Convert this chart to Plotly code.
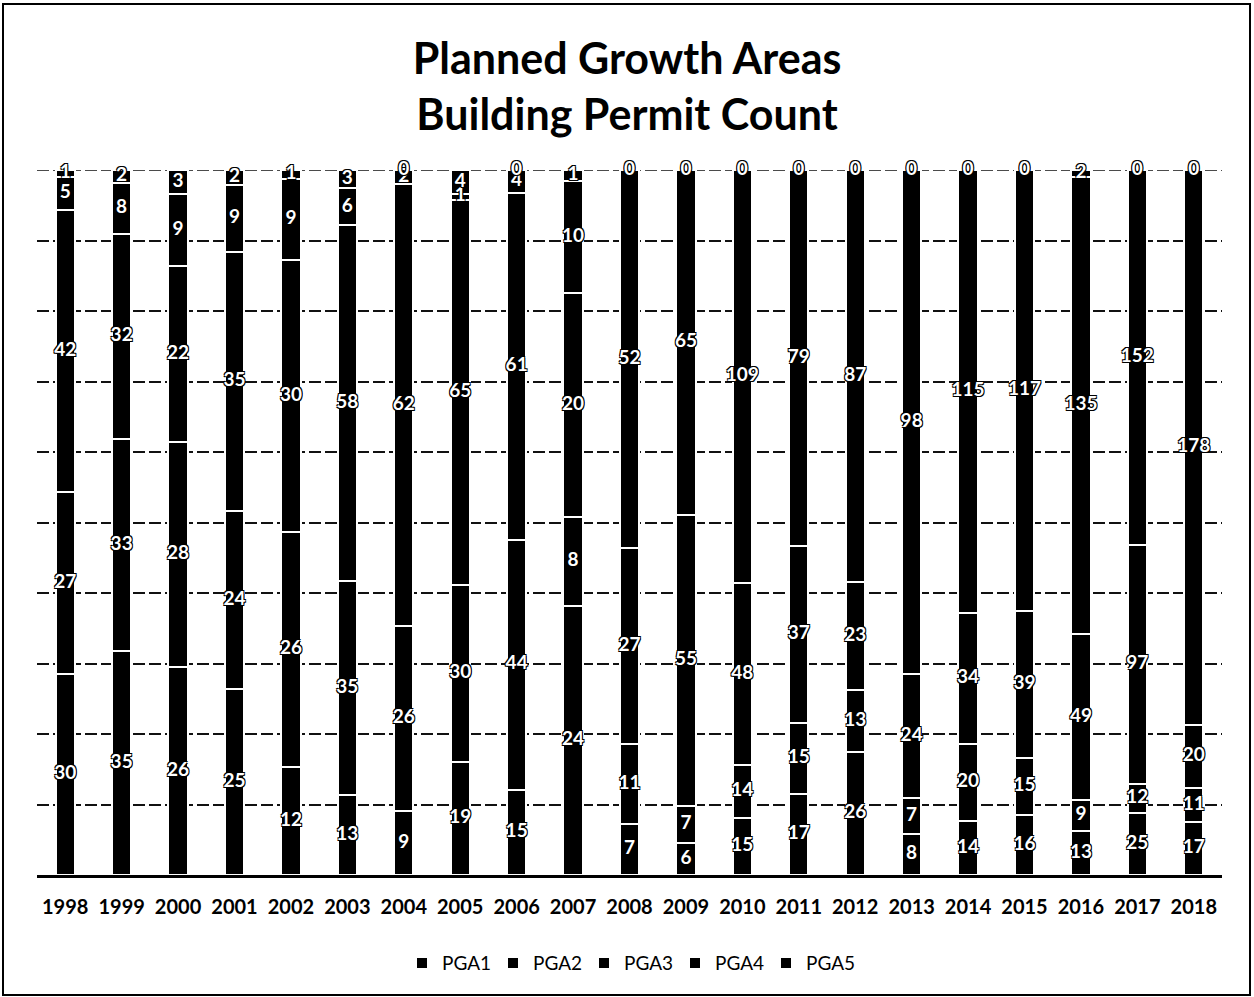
import plotly.graph_objects as go

# Building permit counts per planned growth area, by year
years = ["1998", "1999", "2000", "2001", "2002", "2003", "2004", "2005", "2006", "2007",
         "2008", "2009", "2010", "2011", "2012", "2013", "2014", "2015", "2016", "2017", "2018"]
pga1 = [30, 35, 26, 25, 12, 13, 9, 19, 15, 24, 7, 6, 15, 17, 26, 8, 14, 16, 13, 25, 17]
pga2 = [27, 33, 28, 24, 26, 35, 26, 30, 44, 8, 11, 7, 14, 15, 13, 7, 20, 15, 9, 12, 11]
pga3 = [42, 32, 22, 35, 30, 58, 62, 65, 61, 20, 27, 55, 48, 37, 23, 24, 34, 39, 49, 97, 20]
pga4 = [5, 8, 9, 9, 9, 6, 2, 1, 4, 10, 52, 65, 109, 79, 87, 98, 115, 117, 135, 152, 178]
pga5 = [1, 2, 3, 2, 1, 3, 0, 4, 0, 1, 0, 0, 0, 0, 0, 0, 0, 0, 2, 0, 0]

series_names = ["PGA1", "PGA2", "PGA3", "PGA4", "PGA5"]
series = [pga1, pga2, pga3, pga4, pga5]

LABEL_FONT = "Lato, 'Open Sans', sans-serif"
outline = "-1px -1px 0 #000, 1px -1px 0 #000, -1px 1px 0 #000, 1px 1px 0 #000"

fig = go.Figure()

for name, vals in zip(series_names, series):
    fig.add_trace(go.Bar(
        x=years, y=vals, name=name,
        marker=dict(color="#000000", line=dict(color="#ffffff", width=2)),
        hoverinfo="x+y+name",
    ))

# Value labels centred on each stacked segment (percent-normalised positions)
totals = [sum(col) for col in zip(*series)]
cum = [0.0] * len(years)
for vals in series:
    mids = []
    for i, v in enumerate(vals):
        share = 100.0 * v / totals[i]
        mids.append(cum[i] + share / 2.0)
        cum[i] += share
    fig.add_trace(go.Scatter(
        x=years, y=mids, mode="text", text=[str(v) for v in vals],
        textposition="middle center",
        textfont=dict(family=LABEL_FONT, size=19, color="#ffffff", weight="bold",
                      shadow=outline),
        showlegend=False, hoverinfo="skip", cliponaxis=False,
    ))

fig.update_layout(
    width=1254, height=997,
    barmode="stack", barnorm="percent", bargap=0.66,
    paper_bgcolor="#ffffff", plot_bgcolor="#ffffff",
    margin=dict(l=37, r=32, t=170, b=122),
    title=dict(
        text="<b>Planned Growth Areas</b><br><b>Building Permit Count</b>",
        x=0.5, xanchor="center", xref="container",
        y=1 - 74 / 997, yanchor="middle", yref="container",
        font=dict(family=LABEL_FONT, size=43, color="#000000"),
    ),
    legend=dict(
        orientation="h", x=0.5, xanchor="center", y=-0.125, yanchor="middle",
        traceorder="normal", font=dict(family=LABEL_FONT, size=19, color="#000000"),
        itemwidth=30, entrywidth=46, entrywidthmode="pixels",
        bgcolor="rgba(0,0,0,0)",
    ),
    showlegend=True,
    xaxis=dict(
        type="category", range=[-0.5, len(years) - 0.5], autorange=False,
        showgrid=False, showline=True, linecolor="#000000", linewidth=3,
        ticks="", tickfont=dict(family=LABEL_FONT, size=20, color="#000000", weight="bold"),
        ticklabelstandoff=12,
    ),
    yaxis=dict(
        range=[0, 100], autorange=False, dtick=10, showticklabels=False, ticks="",
        showgrid=True, gridcolor="#111111", gridwidth=1.5, griddash="12px,4px",
        zeroline=False, showline=False,
    ),
    shapes=[
        dict(
            type="rect", xref="paper", yref="paper",
            x0=(3 - 37) / 1185, x1=(1250 - 37) / 1185,
            y0=(875 - 995) / 705, y1=(875 - 4) / 705,
            line=dict(color="#000000", width=2), fillcolor="rgba(0,0,0,0)", layer="below",
        ),
        # top (100%) gridline, drawn behind the bars
        dict(
            type="line", xref="paper", yref="y", x0=0, x1=1, y0=100, y1=100,
            line=dict(color="#111111", width=1.5, dash="12px,4px"), layer="below",
        ),
    ],
)

fig.write_html("out.html")
